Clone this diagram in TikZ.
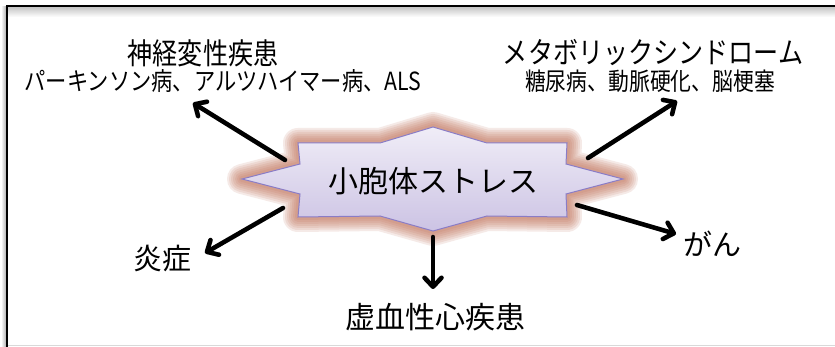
\documentclass[tikz,border=0pt]{standalone}
\usepackage{fontspec}
\newfontfamily\jp{Noto Sans CJK JP}
\newfontfamily\jpc[FakeStretch=0.85]{Noto Sans CJK JP}
\usetikzlibrary{arrows.meta}
\definecolor{glowc}{HTML}{BF6E55}
\definecolor{starline}{HTML}{8A7CC6}
\definecolor{startop}{HTML}{F0EDF7}
\definecolor{starbot}{HTML}{CCC3E4}
\tikzset{
  lbl/.style={inner sep=0pt},
  arr/.style={line width=4.5pt, line cap=round, -{Straight Barb[length=9pt,width=17pt,line cap=round,line join=round]}},
  arrshadow/.style={arr, draw=black, opacity=0.18, shift={(2,3)}},
}
\begin{document}
\begin{tikzpicture}[x=1pt,y=-1pt]
\useasboundingbox (0,0) rectangle (835,347);
\fill[white] (0,0) rectangle (835,347);
% frame shadow
\shade[top color=gray!45, bottom color=white] (8,7) rectangle (835,17);
\shade[left color=white, right color=gray!60] (1,7) rectangle (6,347);
\draw[gray!30, line width=1.5pt] (8,345.5) -- (835,345.5);
\draw[black, line width=2pt] (7,347) -- (7,6) -- (835,6);
% star
\coordinate (v1) at (433,127);
\coordinate (v2) at (487,143);
\coordinate (v3) at (567,143);
\coordinate (v4) at (566,164);
\coordinate (v5) at (623,179);
\coordinate (v6) at (566,194);
\coordinate (v7) at (567,217);
\coordinate (v8) at (487,216);
\coordinate (v9) at (433,231);
\coordinate (v10) at (380,216);
\coordinate (v11) at (298,217);
\coordinate (v12) at (300,194);
\coordinate (v13) at (242,179);
\coordinate (v14) at (300,164);
\coordinate (v15) at (298,143);
\coordinate (v16) at (380,143);
\foreach \w in {30,26,22,18,14,10,6} {
  \draw[glowc, line width=\w pt, line join=round, opacity=0.14]
    (v1)--(v2)--(v3)--(v4)--(v5)--(v6)--(v7)--(v8)--(v9)--(v10)--(v11)--(v12)--(v13)--(v14)--(v15)--(v16)--cycle;
}
\shade[top color=startop, bottom color=starbot]
  (v1)--(v2)--(v3)--(v4)--(v5)--(v6)--(v7)--(v8)--(v9)--(v10)--(v11)--(v12)--(v13)--(v14)--(v15)--(v16)--cycle;
\draw[starline, line width=1pt, line join=miter]
  (v1)--(v2)--(v3)--(v4)--(v5)--(v6)--(v7)--(v8)--(v9)--(v10)--(v11)--(v12)--(v13)--(v14)--(v15)--(v16)--cycle;
\node[lbl, font=\jp\fontsize{30}{32}\selectfont] (star) at (433,181) {小胞体ストレス};
% labels
\node[lbl, font=\jpc\fontsize{29.5}{31}\selectfont] (h1) at (203,53) {神経変性疾患};
\node[lbl, font=\jpc\fontsize{25}{27}\selectfont] (s1) at (223,81) {パーキンソン病、アルツハイマー病、ALS};
\node[lbl, font=\jpc\fontsize{29.5}{31}\selectfont] (h2) at (653,53) {メタボリックシンドローム};
\node[lbl, font=\jpc\fontsize{24.5}{26}\selectfont] (s2) at (650,81) {糖尿病、動脈硬化、脳梗塞};
\node[lbl, font=\jp\fontsize{29}{31}\selectfont] (c1) at (162,259) {炎症};
\node[lbl, font=\jp\fontsize{30}{32}\selectfont] (c2) at (435,317) {虚血性心疾患};
\node[lbl, font=\jp\fontsize{29}{31}\selectfont] (c3) at (712,244) {がん};
% arrow ends
\coordinate (a1s) at (285,160); \coordinate (a1e) at (193,103);
\coordinate (a2s) at (588,158); \coordinate (a2e) at (677,101);
\coordinate (a3s) at (577,205); \coordinate (a3e) at (676,234);
\coordinate (a4s) at (283,208); \coordinate (a4e) at (205,253);
\coordinate (a5s) at (433,237); \coordinate (a5e) at (433,289);
\foreach \s/\e in {a1s/a1e,a2s/a2e,a3s/a3e,a4s/a4e,a5s/a5e} {
  \draw[arrshadow] (\s) -- (\e);
}
\foreach \s/\e in {a1s/a1e,a2s/a2e,a3s/a3e,a4s/a4e,a5s/a5e} {
  \draw[arr] (\s) -- (\e);
}
\end{tikzpicture}
\end{document}
